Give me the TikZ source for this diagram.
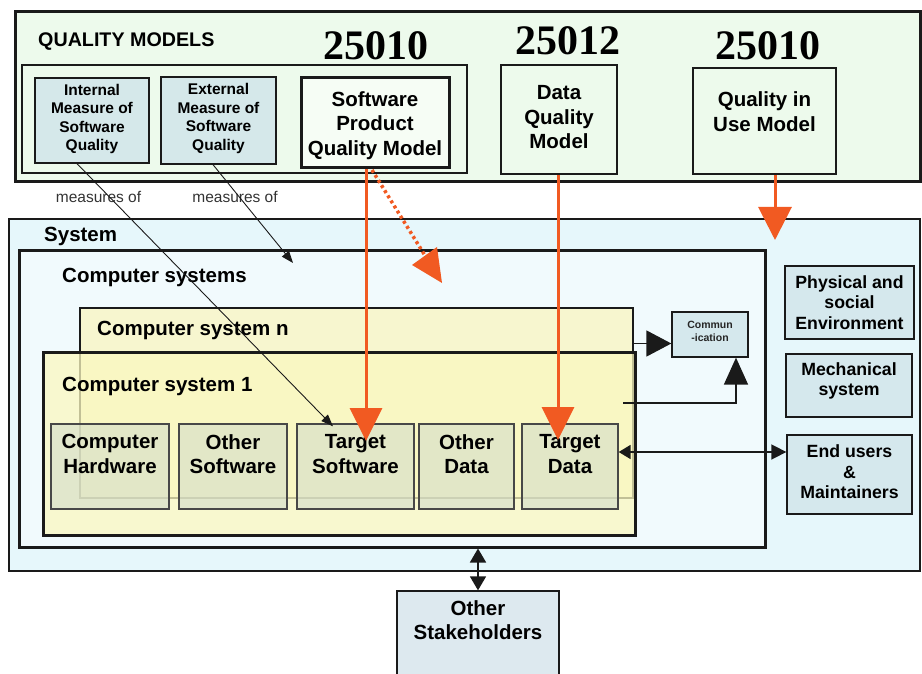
\documentclass[tikz,border=0pt]{standalone}
\usepackage{fontspec}
\setmainfont{Liberation Sans}
\newfontfamily\numfont{Liberation Serif}
\usetikzlibrary{arrows.meta}

\definecolor{qmFill}{HTML}{EDFAEC}
\definecolor{spqFill}{HTML}{F6FDF5}
\definecolor{measFill}{HTML}{D5E8EA}
\definecolor{sysFill}{HTML}{E6F7FB}
\definecolor{cssFill}{HTML}{F1FAFD}
\definecolor{csnFill}{HTML}{F7F6CF}
\definecolor{csoneFill}{HTML}{FBF8C0}
\definecolor{compFill}{HTML}{D3DDCB}
\definecolor{envFill}{HTML}{D5E8ED}
\definecolor{stakeFill}{HTML}{DDE9EF}
\definecolor{isoOrange}{HTML}{F15A22}
\definecolor{edge}{HTML}{1A1A1A}

\tikzset{
  x=1pt, y=-1pt,
  box/.style={draw=edge, rectangle, inner sep=0pt},
  measbox/.style={box, fill=measFill, line width=1.3pt},
  modelbox/.style={box, fill=qmFill, line width=2pt},
  compbox/.style={box, draw=edge!80, fill=compFill, fill opacity=0.6, line width=1.3pt},
  envbox/.style={box, fill=envFill, line width=1.3pt},
  txt/.style={inner sep=0pt, align=center, font=\bfseries\fontsize{20.5}{24.5}\selectfont},
  smalltxt/.style={inner sep=0pt, align=center, font=\bfseries\fontsize{15.5}{18.5}\selectfont},
  envtxt/.style={inner sep=0pt, align=center, font=\bfseries\fontsize{17.7}{20.5}\selectfont},
  headtxt/.style={inner sep=0pt, anchor=base west, font=\bfseries\fontsize{20.5}{24}\selectfont},
  isonum/.style={inner sep=0pt, anchor=base, font=\numfont\bfseries\fontsize{42}{44}\selectfont},
  measlbl/.style={inner sep=0pt, anchor=base, font=\fontsize{15.5}{18}\selectfont, text=black!80},
  thinarrow/.style={draw=edge, line width=0.9pt, -{Triangle[length=12pt,width=9pt]}},
  blackarrow/.style={draw=edge, line width=1.6pt},
  orangearrow/.style={draw=isoOrange, line width=3pt, -{Triangle[length=33pt,width=32pt]}},
}

\begin{document}
\begin{tikzpicture}
\useasboundingbox (0,0) rectangle (922,674);

% ---------- quality models ----------
\node[box, fill=qmFill, line width=3pt, minimum width=905pt, minimum height=170pt] (qm) at (467.5,97) {};
\node[box, fill=qmFill, line width=2pt, minimum width=445pt, minimum height=108pt] (qmin) at (244.5,119) {};
\node[headtxt, font=\bfseries\fontsize{19.7}{22}\selectfont] (qmT) at (38,47) {QUALITY MODELS};

\node[measbox, minimum width=114pt, minimum height=85pt] (imq) at (92,120.5) {};
\node[smalltxt] (imqT) at (92,119) {Internal\\Measure of\\Software\\Quality};
\node[measbox, minimum width=115pt, minimum height=87pt] (emq) at (218.5,120.5) {};
\node[smalltxt] (emqT) at (218.5,118.5) {External\\Measure of\\Software\\Quality};

\node[box, fill=spqFill, line width=3pt, minimum width=148pt, minimum height=90pt] (spq) at (375,123) {};
\node[txt] (spqT) at (375,125.5) {Software\\Product\\Quality Model};
\node[modelbox, minimum width=116pt, minimum height=109pt] (dqm) at (559,119.5) {};
\node[txt] (dqmT) at (559,117.5) {Data\\Quality\\Model};
\node[modelbox, minimum width=143pt, minimum height=106pt] (qum) at (764.5,121) {};
\node[txt] (qumT) at (764.5,111.5) {Quality in\\Use Model};

\node[isonum] (isoA) at (376,60) {25010};
\node[isonum] (isoB) at (568,55) {25012};
\node[isonum] (isoC) at (768,60) {25010};

\node[measlbl] (mlA) at (98.5,203) {measures of};
\node[measlbl] (mlB) at (235,203) {measures of};

% ---------- system ----------
\node[box, fill=sysFill, line width=2pt, minimum width=911pt, minimum height=352pt] (sys) at (464.5,395) {};
\node[headtxt] (sysT) at (44,241) {System};
\node[box, fill=cssFill, line width=3pt, minimum width=746pt, minimum height=296pt] (css) at (392,399) {};
\node[headtxt] (cssT) at (62,283) {Computer systems};
\node[box, fill=csnFill, line width=2.5pt, minimum width=553pt, minimum height=190pt] (csn) at (356.5,403) {};
\node[headtxt] (csnT) at (97,335) {Computer system n};
\node[box, fill=csoneFill, fill opacity=0.75, line width=3pt, minimum width=592pt, minimum height=183pt] (csone) at (339,443.5) {};
\node[headtxt] (csoneT) at (62,391) {Computer system 1};

\node[compbox, minimum width=118pt, minimum height=85pt] (hw) at (110,466.5) {};
\node[txt] (hwT) at (110,454) {Computer\\Hardware};
\node[compbox, minimum width=108pt, minimum height=85pt] (osw) at (233,466.5) {};
\node[txt] (oswT) at (233,454) {Other\\Software};
\node[compbox, minimum width=117pt, minimum height=85pt] (tsw) at (355.5,466.5) {};
\node[txt] (tswT) at (355.5,454) {Target\\Software};
\node[compbox, minimum width=95pt, minimum height=85pt] (odt) at (466.5,466.5) {};
\node[txt] (odtT) at (466.5,454) {Other\\Data};
\node[compbox, minimum width=96pt, minimum height=85pt] (tdt) at (570,466.5) {};
\node[txt] (tdtT) at (570,454) {Target\\Data};

\node[envbox, minimum width=76pt, minimum height=45pt] (comm) at (710,334.5) {};
\node[inner sep=0pt, align=center, font=\bfseries\fontsize{10.5}{13.5}\selectfont, text=black!85] (commT) at (710,331.5) {Commun\\-ication};

\node[envbox, minimum width=129pt, minimum height=73pt] (phy) at (849.5,302.5) {};
\node[envtxt] (phyT) at (849.5,302.5) {Physical and\\social\\Environment};
\node[envbox, minimum width=126pt, minimum height=63pt] (mech) at (849,385.5) {};
\node[envtxt] (mechT) at (849,381) {Mechanical\\system};
\node[envbox, minimum width=125pt, minimum height=79pt] (endu) at (849.5,474.5) {};
\node[envtxt] (enduT) at (849.5,472) {End users\\\&\\Maintainers};

\node[box, fill=stakeFill, line width=1.3pt, minimum width=162pt, minimum height=90pt] (stake) at (478,636) {};
\node[txt] (stakeT) at (478,620) {Other\\Stakeholders};

% ---------- connectors ----------
\coordinate (commIn) at ([yshift=-9pt]comm.west);
\draw[blackarrow, -{Triangle[length=25pt,width=26pt]}] (csn.east |- commIn) -- (commIn);
\coordinate (csoneOut) at (623,403);
\coordinate (commUp) at ([xshift=26pt]comm.south);
\draw[blackarrow, -{Triangle[length=27pt,width=24pt]}] (csoneOut) -| (commUp);

\coordinate (tdtR) at ([yshift=14.5pt]tdt.east);
\draw[blackarrow, {Triangle[length=12pt,width=14pt]}-{Triangle[length=15pt,width=15pt]}] (tdtR) -- (tdtR -| endu.west);

\draw[blackarrow, {Triangle[length=14pt,width=16pt]}-{Triangle[length=14pt,width=16pt]}] (css.south -| stake.north) -- (stake.north);

% measures-of links
\coordinate (imqOut) at ([xshift=-15pt]imq.south);
\coordinate (tswIn) at ([xshift=-22.5pt,yshift=-3pt]tsw.north);
\draw[thinarrow] (imqOut) -- (tswIn);
\coordinate (emqOut) at ([xshift=-5.5pt]emq.south);
\coordinate (cssIn) at (293,263);
\draw[thinarrow] (emqOut) -- (cssIn);

% quality model arrows
\coordinate (spqOut) at ([xshift=-9pt]spq.south);
\coordinate (tswHit) at (366,441);
\draw[orangearrow] (spqOut) -- (tswHit);
\coordinate (spqOutB) at (372,170);
\coordinate (cssHit) at (442,283);
\draw[draw=isoOrange, line width=3.5pt, dash pattern=on 3pt off 3pt, shorten >=30pt] (spqOutB) -- (cssHit);
\fill[isoOrange] (cssHit) -- (412,265) -- (437,247) -- cycle;
\coordinate (tdtHit) at (558,440);
\draw[orangearrow] (dqm.south -| tdtHit) -- (tdtHit);
\coordinate (qumOut) at ([xshift=10.5pt]qum.south);
\coordinate (sysHit) at (775,240);
\draw[orangearrow, -{Triangle[length=33pt,width=33pt]}] (qumOut) -- (sysHit);
\end{tikzpicture}
\end{document}
